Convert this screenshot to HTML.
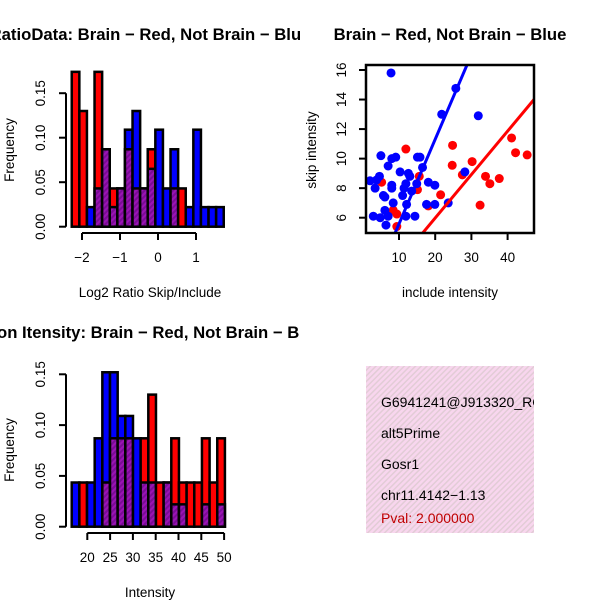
<!DOCTYPE html>
<html><head><meta charset="utf-8"><style>
body{margin:0;background:#fff}
svg{display:block;font-family:"Liberation Sans",sans-serif}
</style></head><body>
<svg id="s" width="600" height="600" viewBox="0 0 600 600">
<defs>
<pattern id="ph" width="4" height="4" patternUnits="userSpaceOnUse" patternTransform="rotate(45)">
<rect width="4" height="4" fill="#9a14b4"/><rect width="2" height="4" fill="#7a0c96"/></pattern>
<pattern id="pk" width="4" height="4" patternUnits="userSpaceOnUse" patternTransform="rotate(45)">
<rect width="4" height="4" fill="#f8d6ee"/><rect width="1.5" height="4" fill="#e2ccd6"/></pattern>
<clipPath id="scClip"><rect x="366" y="65" width="168" height="168"/></clipPath>
<clipPath id="boxClip"><rect x="366" y="366" width="168" height="167"/></clipPath>
<clipPath id="leftClip"><rect x="0" y="0" width="300" height="600"/></clipPath>
</defs>
<g id="g1" clip-path="url(#leftClip)"></g>
<g id="g2"></g>
<g id="g3" clip-path="url(#leftClip)"></g>
<g>
<rect x="366" y="366" width="168" height="167" fill="url(#pk)"/>
<g clip-path="url(#boxClip)" font-size="14">
<text x="381" y="407">G6941241@J913320_RC</text>
<text x="381" y="438">alt5Prime</text>
<text x="381" y="469">Gosr1</text>
<text x="381" y="500">chr11.4142−1.13</text>
<text x="381" y="523" fill="#c00000">Pval: 2.000000</text>
</g></g>
</svg>
<script>
// ---- Histogram 1 data (Log2 ratio) ----
const h1Start = -2.27;
const h1BinWidth = 0.2;
const h1Red  = [0.174,0.130,0,0.174,0.087,0.043,0.043,0.087,0.043,0.043,0.087,0,0,0.043,0.043,0,0,0,0,0];
const h1Blue = [0,0,0.022,0.043,0.087,0.022,0.043,0.109,0.130,0.043,0.065,0.109,0.043,0.087,0,0.022,0.109,0.022,0.022,0.022];
const h1XTicks = [-2,-1,0,1];
const h1YTicks = [0,0.05,0.10,0.15];
const h1YLabels = ["0.00","0.05","0.10","0.15"];
// ---- Histogram 3 data (Intensity) ----
const h3Start = 16.58;
const h3BinWidth = 1.68;
const h3Red  = [0,0.0435,0,0,0.0435,0.087,0.087,0.087,0,0.087,0.13,0.0435,0.0435,0.087,0.0435,0.0435,0.0435,0.087,0.0435,0.087];
const h3Blue = [0.0435,0,0.0435,0.087,0.152,0.152,0.109,0.109,0.087,0.0435,0.0435,0,0.0435,0.022,0.022,0,0,0.022,0,0.022];
const h3XTicks = [20,25,30,35,40,45,50];
const h3YTicks = [0,0.05,0.10,0.15];
const h3YLabels = ["0.00","0.05","0.10","0.15"];
// ---- Scatter data ----
const blueX = [7.8,25.7,21.8,31.9,5.0,8.0,9.1,7.0,15.1,15.8,16.5,28.2,2.0,3.8,4.6,3.4,8.0,8.0,10.3,12.6,13.0,11.9,11.4,13.5,14.9,18.1,19.9,5.7,6.1,11.0,8.4,12.1,17.6,19.9,23.6,2.9,4.8,6.1,7.0,6.4,11.9,14.4];
const blueY = [15.8,14.76,13.0,12.9,10.2,10.0,10.1,9.5,10.1,10.1,9.4,9.1,8.5,8.55,8.8,8.0,8.2,8.0,9.1,9.0,8.8,8.3,8.0,7.8,8.3,8.4,8.2,7.5,7.4,7.5,7.0,6.9,6.9,6.9,7.0,6.1,6.0,6.5,6.1,5.5,6.1,6.1];
const redX = [11.9,24.8,24.7,30.2,27.5,33.9,37.7,35.1,41.1,42.2,45.4,32.4,21.5,15.1,15.6,18.1,5.2,8.4,9.4,9.4];
const redY = [10.65,10.9,9.55,9.8,8.9,8.8,8.65,8.3,11.4,10.4,10.25,6.85,7.55,7.9,8.8,6.8,8.4,6.5,6.25,5.4];
const blueFit = [-0.15,0.573];
const redFit = [0.10,0.294];
const scXTicks = [10,20,30,40];
const scYTicks = [6,8,10,12,14,16];

const NS="http://www.w3.org/2000/svg";
function mk(parent,tag,attrs,text){const e=document.createElementNS(NS,tag);for(const k in attrs)e.setAttribute(k,attrs[k]);if(text!==undefined)e.textContent=text;parent.appendChild(e);return e;}

function hist(g,start,bw,red,blue,xT,yT,yL,xs,ys,axY,yAxX,title,titleY,xlab,xlabY,ylabCY,nm){
  const X=v=>xs[0]+(v-xs[1])*xs[2];
  const Y=v=>ys[0]-v*ys[1];
  for(let i=0;i<red.length;i++){
    const x0=X(start+i*bw), x1=X(start+(i+1)*bw);
    const hi=Math.max(red[i],blue[i]), lo=Math.min(red[i],blue[i]);
    if(hi>0){
      const r=mk(g,'rect',{x:x0,y:Y(hi),width:x1-x0,height:Y(0)-Y(hi),fill:red[i]>=blue[i]?'#ff0000':'#0000ff',stroke:'#000','stroke-width':2.5});
      
      
    }
    if(lo>0){
      const p=mk(g,'rect',{x:x0,y:Y(lo),width:x1-x0,height:Y(0)-Y(lo),fill:'url(#ph)',stroke:'#000','stroke-width':2.5});
      
      
    }
  }
  const xa=mk(g,'g',{});
  
  
  mk(xa,'line',{x1:X(xT[0]),x2:X(xT[xT.length-1]),y1:axY,y2:axY,stroke:'#000','stroke-width':2});
  xT.forEach(t=>{mk(xa,'line',{x1:X(t),x2:X(t),y1:axY,y2:axY+7,stroke:'#000','stroke-width':2});
    mk(xa,'text',{x:X(t),y:axY+29,'text-anchor':'middle','font-size':13.5},String(t).replace('-','\u2212'));});
  const ya=mk(g,'g',{});
  
  
  mk(ya,'line',{x1:yAxX,x2:yAxX,y1:Y(yT[0]),y2:Y(yT[yT.length-1]),stroke:'#000','stroke-width':2});
  yT.forEach((t,i)=>{mk(ya,'line',{x1:yAxX,x2:yAxX-7,y1:Y(t),y2:Y(t),stroke:'#000','stroke-width':2});
    mk(ya,'text',{x:yAxX-21,y:Y(t),'text-anchor':'middle','font-size':13.5,transform:`rotate(-90 ${yAxX-21} ${Y(t)})`},yL[i]);});
  const tt=mk(g,'text',{x:150,y:titleY,'text-anchor':'middle','font-size':16.7,'font-weight':'bold'},title);
  
  
  const xl=mk(g,'text',{x:150,y:xlabY,'text-anchor':'middle','font-size':13.5},xlab);
  
  
  const yl=mk(g,'text',{x:14,y:ylabCY,'text-anchor':'middle','font-size':13.5,transform:`rotate(-90 14 ${ylabCY})`},'Frequency');
  
  
}
hist(document.getElementById('g1'),h1Start,h1BinWidth,h1Red,h1Blue,h1XTicks,h1YTicks,h1YLabels,
  [158,0,38],[226.7,44.5/0.05],233,66,'RatioData: Brain \u2212 Red, Not Brain \u2212 Blue',40,'Log2 Ratio Skip/Include',297,150,'ratio-hist');
hist(document.getElementById('g3'),h3Start,h3BinWidth,h3Red,h3Blue,h3XTicks,h3YTicks,h3YLabels,
  [87.3,20,4.56],[526.7,50.8/0.05],533,66,'Exon Itensity: Brain \u2212 Red, Not Brain \u2212 Blue',338,'Intensity',597,450,'intensity-hist');

(function(){
  const g=document.getElementById('g2');
  const X=v=>362.8+v*3.62, Y=v=>217.7-(v-6)*14.77;
  const c=mk(g,'g',{'clip-path':'url(#scClip)'});
  function fit(f,col,nm){const x0=0,x1=50;const l=mk(c,'line',{x1:X(x0),y1:Y(f[0]+f[1]*x0),x2:X(x1),y2:Y(f[0]+f[1]*x1),stroke:col,'stroke-width':3});
    
    }
  redX.forEach((x,i)=>{const p=mk(c,'circle',{cx:X(x),cy:Y(redY[i]),r:4.5,fill:'#ff0000'});
    
    });
  blueX.forEach((x,i)=>{const p=mk(c,'circle',{cx:X(x),cy:Y(blueY[i]),r:4.5,fill:'#0000ff'});
    
    });
  fit(blueFit,'#0000ff','not-brain-fit-line');
  fit(redFit,'#ff0000','brain-fit-line');
  mk(g,'rect',{x:366,y:65,width:168,height:168,fill:'none',stroke:'#000','stroke-width':2.5});
  scXTicks.forEach(t=>{mk(g,'line',{x1:X(t),x2:X(t),y1:233,y2:240,stroke:'#000','stroke-width':2});
    mk(g,'text',{x:X(t),y:262,'text-anchor':'middle','font-size':13.5},String(t));});
  scYTicks.forEach(t=>{mk(g,'line',{x1:366,x2:359,y1:Y(t),y2:Y(t),stroke:'#000','stroke-width':2});
    mk(g,'text',{x:346,y:Y(t),'text-anchor':'middle','font-size':13.5,transform:`rotate(-90 346 ${Y(t)})`},String(t));});
  const tt=mk(g,'text',{x:450,y:40,'text-anchor':'middle','font-size':16.7,'font-weight':'bold'},'Brain \u2212 Red, Not Brain \u2212 Blue');
  
  
  const xl=mk(g,'text',{x:450,y:297,'text-anchor':'middle','font-size':13.5},'include intensity');
  
  
  const yl=mk(g,'text',{x:316,y:150,'text-anchor':'middle','font-size':13.5,transform:'rotate(-90 316 150)'},'skip intensity');
  
  
})();
</script>
</body></html>
